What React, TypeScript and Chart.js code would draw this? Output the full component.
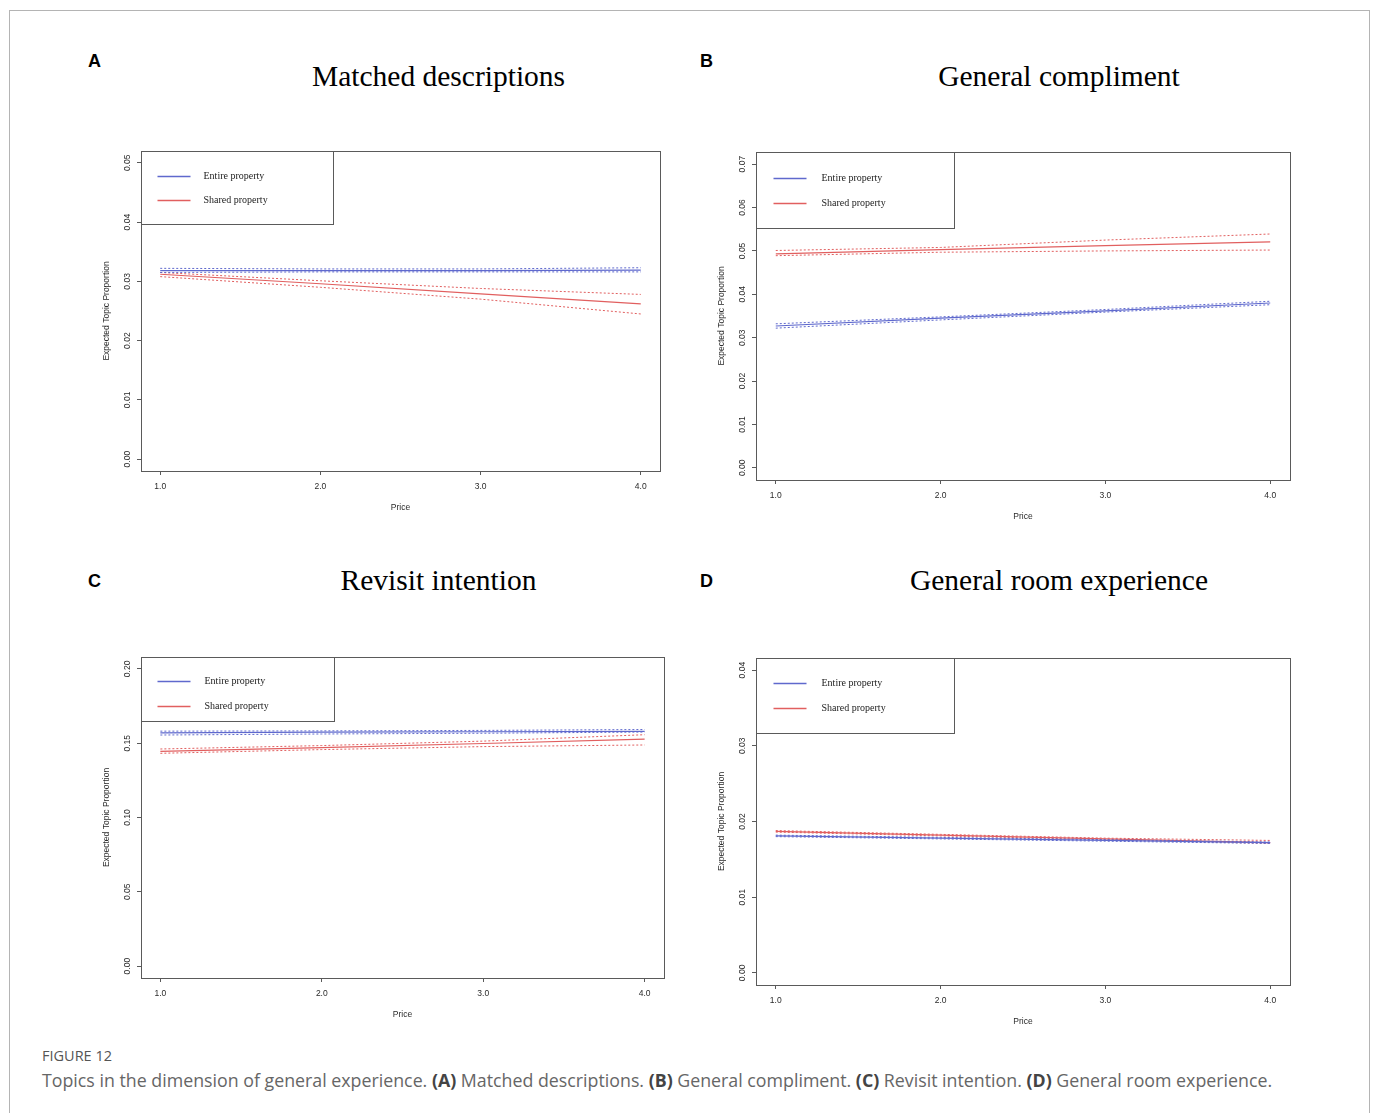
import React, { useEffect, useRef } from "react";
import { Chart, registerables } from "chart.js";

Chart.register(...registerables);

// ---------------- data ----------------
const price = [1, 2, 3, 4];
const xTickValues = [1, 2, 3, 4];
const xTickLabels = ["1.0", "2.0", "3.0", "4.0"];
const seriesNames = ["Entire property", "Shared property"];

// A: Matched descriptions
const entireA = [0.0318, 0.0318, 0.0318, 0.0319];
const entireALow = [0.0315, 0.0316, 0.0316, 0.0316];
const entireAHigh = [0.0322, 0.0321, 0.0321, 0.0323];
const sharedA = [0.0312, 0.0296, 0.0279, 0.0262];
const sharedALow = [0.0308, 0.029, 0.027, 0.0245];
const sharedAHigh = [0.0315, 0.0301, 0.0288, 0.0278];
const yTicksA = [0, 0.01, 0.02, 0.03, 0.04, 0.05];
const yLabelsA = ["0.00", "0.01", "0.02", "0.03", "0.04", "0.05"];

// B: General compliment
const entireB = [0.0327, 0.0345, 0.0362, 0.038];
const entireBLow = [0.0322, 0.0341, 0.0359, 0.0376];
const entireBHigh = [0.0332, 0.0348, 0.0365, 0.0384];
const sharedB = [0.0493, 0.0503, 0.0512, 0.0521];
const sharedBLow = [0.0489, 0.0497, 0.05, 0.0502];
const sharedBHigh = [0.0501, 0.0508, 0.0525, 0.0539];
const yTicksB = [0, 0.01, 0.02, 0.03, 0.04, 0.05, 0.06, 0.07];
const yLabelsB = ["0.00", "0.01", "0.02", "0.03", "0.04", "0.05", "0.06", "0.07"];

// C: Revisit intention
const entireC = [0.157, 0.1574, 0.1577, 0.158];
const entireCLow = [0.1555, 0.1562, 0.1567, 0.1575];
const entireCHigh = [0.1581, 0.1583, 0.1586, 0.1592];
const sharedC = [0.1445, 0.147, 0.1498, 0.1528];
const sharedCLow = [0.1432, 0.1457, 0.1477, 0.1488];
const sharedCHigh = [0.1461, 0.1484, 0.1514, 0.1557];
const yTicksC = [0, 0.05, 0.1, 0.15, 0.2];
const yLabelsC = ["0.00", "0.05", "0.10", "0.15", "0.20"];

// D: General room experience
const entireD = [0.0181, 0.0178, 0.0175, 0.0172];
const entireDLow = [0.018, 0.0177, 0.0174, 0.0171];
const entireDHigh = [0.0182, 0.0179, 0.0176, 0.0173];
const sharedD = [0.0187, 0.0182, 0.0177, 0.0172];
const sharedDLow = [0.0186, 0.0181, 0.0176, 0.0171];
const sharedDHigh = [0.0188, 0.0183, 0.0178, 0.0175];
const yTicksD = [0, 0.01, 0.02, 0.03, 0.04];
const yLabelsD = ["0.00", "0.01", "0.02", "0.03", "0.04"];

// ---------------- styles / layout ----------------
const BLUE = "rgb(95,105,205)";
const RED = "rgb(225,95,95)";
const AXIS = "#5a5a5a";
const TEXT = "#2a2a2a";
const SANS = "'Liberation Sans', Arial, sans-serif";
const SERIF = "'Liberation Serif', 'Times New Roman', serif";
const CAPTION_FONT = "'Open Sans', 'Noto Sans', sans-serif";

const PAD_L = 50;
const PAD_T = 12;
const PAD_R = 16;
const PAD_B = 56;

type PanelCfg = {
  letter: string;
  title: string;
  box: { l: number; t: number; r: number; b: number };
  yMin: number;
  yMax: number;
  yTicks: number[];
  yLabels: string[];
  entire: number[];
  entireLow: number[];
  entireHigh: number[];
  shared: number[];
  sharedLow: number[];
  sharedHigh: number[];
  legend: { w: number; h: number; y1: number; y2: number; s1: number; s2: number; tx: number };
  letterPos: { x: number; y: number };
  titlePos: { cx: number; y: number };
};

const panels: PanelCfg[] = [
  {
    letter: "A",
    title: "Matched descriptions",
    box: { l: 141, t: 151, r: 660, b: 471 },
    yMin: -0.002,
    yMax: 0.052,
    yTicks: yTicksA,
    yLabels: yLabelsA,
    entire: entireA,
    entireLow: entireALow,
    entireHigh: entireAHigh,
    shared: sharedA,
    sharedLow: sharedALow,
    sharedHigh: sharedAHigh,
    legend: { w: 192, h: 73, y1: 25, y2: 49, s1: 16, s2: 49, tx: 62 },
    letterPos: { x: 88, y: 52 },
    titlePos: { cx: 438.5, y: 62 },
  },
  {
    letter: "B",
    title: "General compliment",
    box: { l: 756, t: 152, r: 1290, b: 480 },
    yMin: -0.0028,
    yMax: 0.0728,
    yTicks: yTicksB,
    yLabels: yLabelsB,
    entire: entireB,
    entireLow: entireBLow,
    entireHigh: entireBHigh,
    shared: sharedB,
    sharedLow: sharedBLow,
    sharedHigh: sharedBHigh,
    legend: { w: 198, h: 76, y1: 26, y2: 51, s1: 17, s2: 50, tx: 65 },
    letterPos: { x: 700, y: 52 },
    titlePos: { cx: 1059, y: 62 },
  },
  {
    letter: "C",
    title: "Revisit intention",
    box: { l: 141, t: 657, r: 664, b: 978 },
    yMin: -0.008,
    yMax: 0.208,
    yTicks: yTicksC,
    yLabels: yLabelsC,
    entire: entireC,
    entireLow: entireCLow,
    entireHigh: entireCHigh,
    shared: sharedC,
    sharedLow: sharedCLow,
    sharedHigh: sharedCHigh,
    legend: { w: 193, h: 64, y1: 24, y2: 49, s1: 16, s2: 49, tx: 63 },
    letterPos: { x: 88, y: 572 },
    titlePos: { cx: 438.5, y: 566 },
  },
  {
    letter: "D",
    title: "General room experience",
    box: { l: 756, t: 658, r: 1290, b: 985 },
    yMin: -0.0016,
    yMax: 0.0416,
    yTicks: yTicksD,
    yLabels: yLabelsD,
    entire: entireD,
    entireLow: entireDLow,
    entireHigh: entireDHigh,
    shared: sharedD,
    sharedLow: sharedDLow,
    sharedHigh: sharedDHigh,
    legend: { w: 198, h: 75, y1: 25, y2: 50, s1: 17, s2: 50, tx: 65 },
    letterPos: { x: 700, y: 572 },
    titlePos: { cx: 1059, y: 566 },
  },
];

const toPoints = (ys: number[]) => price.map((x, i) => ({ x, y: ys[i] }));

function lineDs(label: string, ys: number[], color: string, dashed: boolean) {
  return {
    label,
    data: toPoints(ys),
    borderColor: color,
    backgroundColor: color,
    borderWidth: dashed ? 1 : 1.2,
    borderDash: dashed ? [2, 2] : [],
    pointRadius: 0,
    tension: 0,
    fill: false,
  };
}

function ChartPanel({ cfg }: { cfg: PanelCfg }) {
  const ref = useRef<HTMLCanvasElement | null>(null);
  const { box } = cfg;
  const width = box.r - box.l + PAD_L + PAD_R;
  const height = box.b - box.t + PAD_T + PAD_B;

  useEffect(() => {
    if (!ref.current) return;
    const axisFont = { family: SANS, size: 8.5 };

    const frame = {
      id: "rFrame",
      afterDraw(chart: any) {
        const { ctx, chartArea: a } = chart;
        ctx.save();
        ctx.strokeStyle = AXIS;
        ctx.lineWidth = 1;
        ctx.setLineDash([]);
        ctx.strokeRect(
          Math.round(a.left) + 0.5,
          Math.round(a.top) + 0.5,
          Math.round(a.right - a.left),
          Math.round(a.bottom - a.top)
        );
        // legend (R style, inside top-left corner)
        const lg = cfg.legend;
        const lx = Math.round(a.left) + 0.5;
        const ly = Math.round(a.top) + 0.5;
        ctx.fillStyle = "#fff";
        ctx.fillRect(lx, ly, lg.w, lg.h);
        ctx.strokeStyle = AXIS;
        ctx.strokeRect(lx, ly, lg.w, lg.h);
        const colors = [BLUE, RED];
        const ys = [lg.y1, lg.y2];
        ctx.font = `10px ${SERIF}`;
        ctx.textBaseline = "middle";
        ctx.textAlign = "left";
        seriesNames.forEach((name, i) => {
          ctx.strokeStyle = colors[i];
          ctx.lineWidth = 1.3;
          ctx.beginPath();
          ctx.moveTo(lx + lg.s1, ly + ys[i]);
          ctx.lineTo(lx + lg.s2, ly + ys[i]);
          ctx.stroke();
          ctx.fillStyle = "#222";
          ctx.fillText(name, lx + lg.tx, ly + ys[i]);
        });
        ctx.restore();
      },
    };

    const chart = new Chart(ref.current, {
      type: "line",
      data: {
        datasets: [
          lineDs(seriesNames[0], cfg.entire, BLUE, false),
          lineDs(seriesNames[0] + " low", cfg.entireLow, BLUE, true),
          lineDs(seriesNames[0] + " high", cfg.entireHigh, BLUE, true),
          lineDs(seriesNames[1], cfg.shared, RED, false),
          lineDs(seriesNames[1] + " low", cfg.sharedLow, RED, true),
          lineDs(seriesNames[1] + " high", cfg.sharedHigh, RED, true),
        ],
      },
      options: {
        animation: false,
        responsive: false,
        maintainAspectRatio: false,
        devicePixelRatio: 1,
        layout: { padding: { top: PAD_T, right: PAD_R, left: 0, bottom: 0 } },
        plugins: {
          legend: { display: false },
          tooltip: { enabled: false },
          title: { display: false },
        },
        scales: {
          x: {
            type: "linear",
            min: 0.88,
            max: 4.12,
            afterBuildTicks: (s: any) => {
              s.ticks = xTickValues.map((v) => ({ value: v }));
            },
            afterFit: (s: any) => {
              s.height = PAD_B;
            },
            ticks: {
              callback: (v: any) => xTickLabels[xTickValues.indexOf(Number(v))] ?? "",
              font: axisFont,
              color: TEXT,
              padding: 7,
              minRotation: 0,
              maxRotation: 0,
              autoSkip: false,
            },
            grid: { display: true, drawOnChartArea: false, drawTicks: true, tickLength: 4, color: AXIS },
            border: { display: false },
            title: { display: true, text: "Price", font: axisFont, color: TEXT, padding: 14 },
          },
          y: {
            type: "linear",
            min: cfg.yMin,
            max: cfg.yMax,
            afterBuildTicks: (s: any) => {
              s.ticks = cfg.yTicks.map((v) => ({ value: v }));
            },
            afterFit: (s: any) => {
              s.width = PAD_L;
            },
            ticks: {
              callback: (v: any) => cfg.yLabels[cfg.yTicks.indexOf(Number(v))] ?? "",
              font: axisFont,
              color: TEXT,
              padding: 1,
              minRotation: 90,
              maxRotation: 90,
              crossAlign: "center",
              autoSkip: false,
            },
            grid: { display: true, drawOnChartArea: false, drawTicks: true, tickLength: 4, color: AXIS },
            border: { display: false },
            title: { display: true, text: "Expected Topic Proportion", font: axisFont, color: TEXT, padding: 10.5 },
          },
        },
      } as any,
      plugins: [frame],
    });
    return () => chart.destroy();
  }, []);

  return (
    <canvas
      ref={ref}
      width={width}
      height={height}
      style={{ position: "absolute", left: box.l - PAD_L, top: box.t - PAD_T, width, height }}
    />
  );
}

export default function App() {
  return (
    <div
      style={{
        position: "absolute",
        left: 0,
        top: 0,
        width: 1377,
        height: 1113,
        background: "#fff",
        overflow: "hidden",
      }}
    >
      <div
        style={{
          position: "absolute",
          left: 9,
          top: 10,
          width: 1359,
          height: 1140,
          border: "1px solid #b4b4b4",
        }}
      />
      {panels.map((p) => (
        <React.Fragment key={p.letter}>
          <div
            style={{
              position: "absolute",
              left: p.letterPos.x,
              top: p.letterPos.y,
              font: `bold 18px ${SANS}`,
              lineHeight: "18px",
              color: "#000",
            }}
          >
            {p.letter}
          </div>
          <div
            style={{
              position: "absolute",
              left: p.titlePos.cx - 300,
              width: 600,
              top: p.titlePos.y,
              textAlign: "center",
              font: `29.5px ${SERIF}`,
              lineHeight: "29.5px",
              color: "#000",
              whiteSpace: "nowrap",
            }}
          >
            {p.title}
          </div>
          <ChartPanel cfg={p} />
        </React.Fragment>
      ))}
      <div
        style={{
          position: "absolute",
          left: 42,
          top: 1046,
          font: `14.5px ${CAPTION_FONT}`,
          lineHeight: "20px",
          color: "#555",
          whiteSpace: "nowrap",
        }}
      >
        FIGURE 12
      </div>
      <div
        style={{
          position: "absolute",
          left: 42,
          top: 1068,
          font: `17.8px ${CAPTION_FONT}`,
          lineHeight: "24px",
          color: "#666",
          whiteSpace: "nowrap",
        }}
      >
        Topics in the dimension of general experience. <b style={{ color: "#444" }}>(A)</b> Matched descriptions.{" "}
        <b style={{ color: "#444" }}>(B)</b> General compliment. <b style={{ color: "#444" }}>(C)</b> Revisit intention.{" "}
        <b style={{ color: "#444" }}>(D)</b> General room experience.
      </div>
    </div>
  );
}
